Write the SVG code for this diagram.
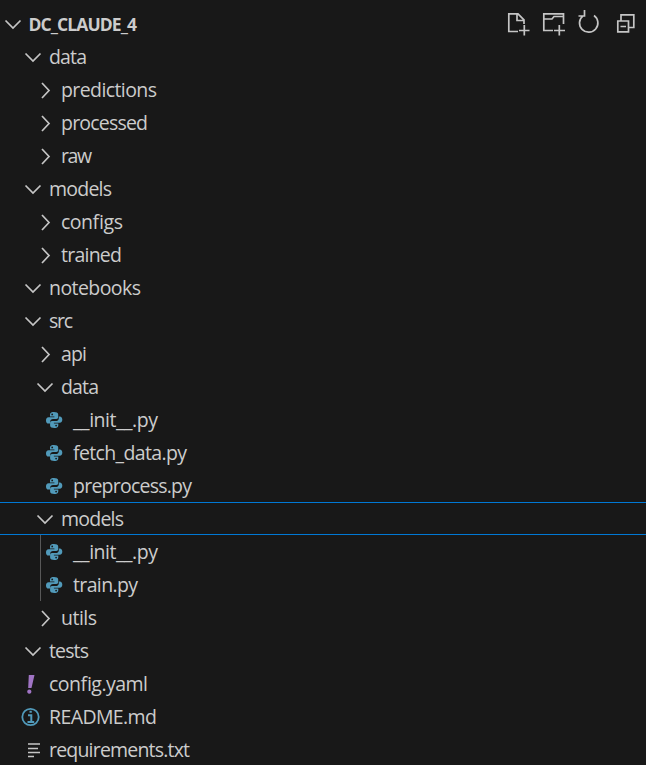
<svg xmlns="http://www.w3.org/2000/svg" width="646" height="765" viewBox="0 0 646 765">
<style>
text{font-family:"Open Sans","Noto Sans","Liberation Sans",sans-serif;font-size:19.5px;fill:#cccccc}
.title{font-weight:700;font-size:17.5px;fill:#cccccc}
.chev{fill:none;stroke:#c5c5c5;stroke-width:1.7}
.act{fill:none;stroke:#c5c5c5;stroke-width:1.7}
.sel{stroke:#0078d4;stroke-width:1.2}
.guide{stroke:#585858;stroke-width:1}
</style>
<defs>
<path id="open" class="chev" d="M-7.5-3.5 L0 4 L7.5-3.5"/>
<path id="closed" class="chev" d="M-3-7 L4 0.5 L-3 8"/>
<g id="py" fill="#519aba">
<path d="M0-8 C-2-8-4-7.4-4-5.5 V-3.6 H0.4 V-2.8 H-5.3 C-7.3-2.8-8-1.2-8 0.4 C-8 2.2-7.2 3.6-5.4 3.6 H-3.8 V1.6 C-3.8 0-2.6-1.1-1-1.1 H2.3 C3.5-1.1 4.2-2 4.2-3.1 V-5.5 C4.2-7.3 2.2-8 0-8 Z"/>
<path d="M0.3 8 C2.3 8 4.3 7.4 4.3 5.5 V3.6 H-0.1 V2.8 H5.6 C7.6 2.8 8.3 1.2 8.3 -0.4 C8.3-2.2 7.5-3.6 5.7-3.6 H4.8 V-1.6 C4.8 0 3.2 1.1 1.6 1.1 H-2 C-3.2 1.1-3.9 2-3.9 3.1 V5.5 C-3.9 7.3-1.9 8 0.3 8 Z"/>
<circle cx="-1.8" cy="-5.6" r="0.9" fill="#181818"/>
<circle cx="2.1" cy="5.6" r="0.9" fill="#181818"/>
</g>
</defs>
<rect width="646" height="765" fill="#181818"/>
<g id="connectors">
<line class="guide" x1="40.5" y1="535" x2="40.5" y2="601"/>
</g>
<g id="selection">
<line class="sel" x1="0" y1="502.5" x2="646" y2="502.5"/>
<line class="sel" x1="0" y1="534.5" x2="646" y2="534.5"/>
</g>
<g id="root"><use href="#open" x="13" y="24"/><text class="title" x="28.5" y="30.5" textLength="108.5">DC_CLAUDE_4</text></g>
<g id="actions">
<path class="act" d="M518 31.5 H508.8 V13.8 H518 L524 19.8 V24 M517 13.8 V20.5 H524 M519 30.5 H529.5 M524.3 25 V35.5"/>
<path class="act" d="M553 30.5 H543.8 V13.8 H563.5 V24 M543.8 19 H552 L554 16.5 H563.5 M554 30.5 H565 M559.3 25 V35.5"/>
<path class="act" d="M583 15.8 A9.2 9.2 0 1 0 594 15.5 M584.5 10 V16 H578.5"/>
<path class="act" d="M621 20.5 V14.8 H633.8 V27.5 H628.5 M617.8 21 H628.5 V31.8 H617.8 Z M620.5 26.5 H626"/>
</g>
<g id="n1"><use href="#open" x="33" y="57"/><text x="49" y="64" textLength="38">data</text></g>
<g id="n2"><use href="#closed" x="45" y="90"/><text x="61" y="97" textLength="96">predictions</text></g>
<g id="n3"><use href="#closed" x="45" y="123"/><text x="61" y="130" textLength="87">processed</text></g>
<g id="n4"><use href="#closed" x="45" y="156"/><text x="61" y="163" textLength="31">raw</text></g>
<g id="n5"><use href="#open" x="33" y="189"/><text x="49" y="196" textLength="63">models</text></g>
<g id="n6"><use href="#closed" x="45" y="222"/><text x="61" y="229" textLength="62">configs</text></g>
<g id="n7"><use href="#closed" x="45" y="255"/><text x="61" y="262" textLength="61">trained</text></g>
<g id="n8"><use href="#open" x="33" y="288"/><text x="49" y="295" textLength="92">notebooks</text></g>
<g id="n9"><use href="#open" x="33" y="321"/><text x="49" y="328" textLength="24">src</text></g>
<g id="n10"><use href="#closed" x="45" y="354"/><text x="61" y="361" textLength="26">api</text></g>
<g id="n11"><use href="#open" x="45" y="387"/><text x="61" y="394" textLength="38">data</text></g>
<g id="n12"><use href="#py" x="54" y="420"/><text x="73" y="427" textLength="85">__init__.py</text></g>
<g id="n13"><use href="#py" x="54" y="453"/><text x="73" y="460" textLength="114">fetch_data.py</text></g>
<g id="n14"><use href="#py" x="54" y="486"/><text x="73" y="493" textLength="119">preprocess.py</text></g>
<g id="n15"><use href="#open" x="45" y="519"/><text x="61" y="526" textLength="63">models</text></g>
<g id="n16"><use href="#py" x="54" y="552"/><text x="73" y="559" textLength="85">__init__.py</text></g>
<g id="n17"><use href="#py" x="54" y="585"/><text x="73" y="592" textLength="65">train.py</text></g>
<g id="n18"><use href="#closed" x="45" y="618"/><text x="61" y="625" textLength="36">utils</text></g>
<g id="n19"><use href="#open" x="33" y="651"/><text x="49" y="658" textLength="40">tests</text></g>
<g id="n20"><path d="M28.8 675 L34.5 675 L31.5 688 L28.2 688 Z M29.3 689.5 a2.1 2.1 0 1 0 0.01 0 Z" fill="#a074c4"/><text x="49" y="691" textLength="99">config.yaml</text></g>
<g id="n21"><circle cx="30.5" cy="717" r="8.2" fill="none" stroke="#519aba" stroke-width="1.8"/><path d="M28 715.2 H31.3 V721.8 M27.5 722 H34.2 M29.5 711.8 H31.8" fill="none" stroke="#519aba" stroke-width="2"/><text x="49" y="724" textLength="108">README.md</text></g>
<g id="n22"><path d="M28 744 H40 M28 748.5 H38 M28 752.5 H40 M28 756.5 H34" fill="none" stroke="#c5c5c5" stroke-width="1.7"/><text x="49" y="757" textLength="141">requirements.txt</text></g>
</svg>
